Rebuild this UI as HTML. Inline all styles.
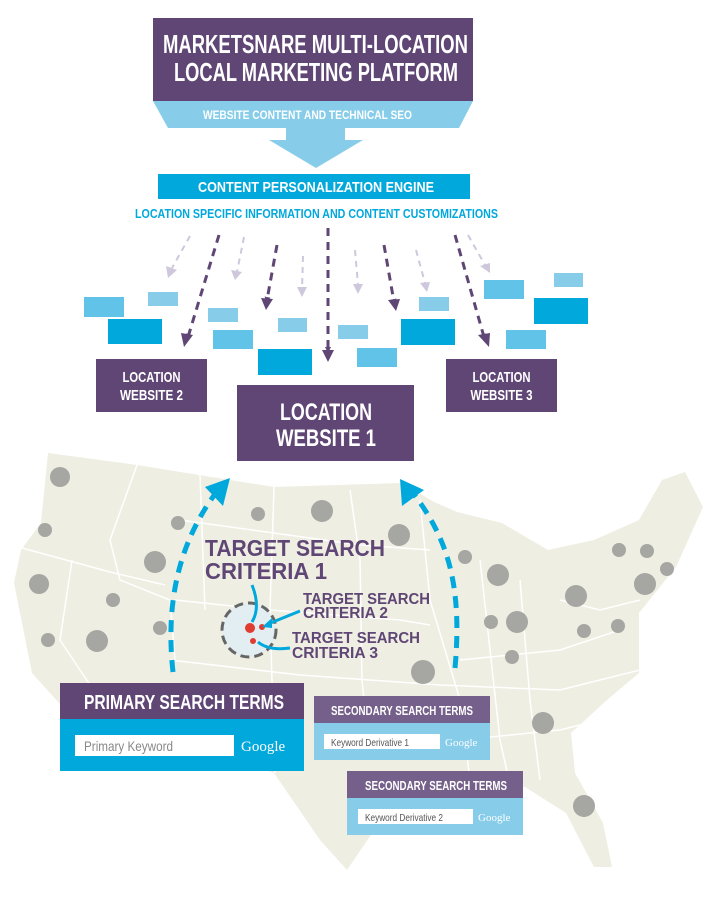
<!DOCTYPE html>
<html><head><meta charset="utf-8"><style>
html,body{margin:0;padding:0;background:#fff;}
svg{display:block;}
text{font-family:"Liberation Sans",sans-serif;font-weight:bold;}
</style></head><body>
<svg width="711" height="900" viewBox="0 0 711 900" xmlns="http://www.w3.org/2000/svg">
<defs>
<marker id="ap" markerWidth="6" markerHeight="6" refX="3" refY="3" orient="auto" markerUnits="userSpaceOnUse" viewBox="0 0 6 6"><path d="M0,0 L6,3 L0,6 z" fill="#5f4675"/></marker>
</defs>
<!-- map -->
<path d="M48,453 L137,465 L274,487 L402,483 L434,502 L457,512 L502,523 L548,550 L594,540 L639,520 L662,480 L685,472 L703,507 L676,567 L639,613 L639,673 L607,700 L571,733 L575,773 L603,823 L612,867 L594,867 L566,813 L525,787 L493,780 L457,793 L411,790 L379,823 L347,870 L320,840 L274,773 L237,760 L183,760 L119,750 L68,713 L32,673 L14,583 L21,550 L41,523 L46,473 Z" fill="#eeeee2"/>
<g stroke="#fff" stroke-width="1.5" fill="none">
<path d="M22,548 L110,572 L165,585"/>
<path d="M72,560 L60,640 L100,700"/>
<path d="M137,465 L110,540 L120,580 L170,600 L175,660"/>
<path d="M175,600 L270,610 L400,620 L430,625"/>
<path d="M170,660 L300,675 L440,685 L560,690 L640,670"/>
<path d="M274,487 L270,610 L272,680 L275,773"/>
<path d="M350,490 L360,560 L362,680 L370,760"/>
<path d="M200,475 L205,610"/>
<path d="M180,520 L360,545 L430,550"/>
<path d="M420,500 L430,600 L460,700 L470,780"/>
<path d="M480,560 L490,650 L500,740 L510,785"/>
<path d="M460,660 L560,650 L620,630"/>
<path d="M520,580 L530,700 L540,780"/>
<path d="M560,600 L600,610 L640,600"/>
<path d="M460,740 L560,730 L600,720"/>
</g>
<g fill="#a6a6a2">
<circle cx="60" cy="477" r="10"/><circle cx="45" cy="530" r="7"/><circle cx="39" cy="584" r="10"/><circle cx="48" cy="640" r="7"/>
<circle cx="97" cy="641" r="11"/><circle cx="113" cy="600" r="7"/><circle cx="160" cy="628" r="7"/><circle cx="155" cy="562" r="11"/>
<circle cx="178" cy="523" r="7"/><circle cx="258" cy="514" r="7"/><circle cx="322" cy="511" r="11"/><circle cx="399" cy="535" r="11"/>
<circle cx="465" cy="557" r="7"/><circle cx="498" cy="575" r="11"/><circle cx="576" cy="596" r="11"/><circle cx="491" cy="622" r="7"/>
<circle cx="517" cy="622" r="11"/><circle cx="512" cy="657" r="7"/><circle cx="584" cy="631" r="7"/><circle cx="645" cy="584" r="11"/>
<circle cx="647" cy="551" r="7"/><circle cx="619" cy="550" r="7"/><circle cx="667" cy="569" r="7"/><circle cx="618" cy="626" r="7"/>
<circle cx="543" cy="723" r="11"/><circle cx="584" cy="806" r="11"/><circle cx="423" cy="672" r="12"/>
</g>
<!-- blue dashed arcs -->
<path d="M173,672 C165,600 180,540 218,490" stroke="#00a8dc" stroke-width="5" stroke-dasharray="12,8" fill="none"/>
<path d="M205,487 L230,478 L223,506 Z" fill="#00a8dc"/>
<path d="M455,668 C462,590 450,540 412,492" stroke="#00a8dc" stroke-width="5" stroke-dasharray="12,8" fill="none"/>
<path d="M400,479 L424,490 L402,506 Z" fill="#00a8dc"/>
<!-- target -->
<circle cx="249" cy="630" r="27" fill="#e3eef2" stroke="#666" stroke-width="3" stroke-dasharray="9,5"/>
<circle cx="250" cy="628" r="5" fill="#e03c31"/><circle cx="262" cy="627" r="3" fill="#e03c31"/><circle cx="253" cy="641" r="3" fill="#e03c31"/>
<path d="M252,585 C258,600 258,612 252,622" stroke="#00a8dc" stroke-width="3" fill="none"/>
<path d="M300,611 L268,624" stroke="#00a8dc" stroke-width="3"/>
<path d="M262,627 L272,618 L272,628 Z" fill="#00a8dc"/>
<path d="M290,648 C275,650 265,648 258,642" stroke="#00a8dc" stroke-width="3" fill="none"/>
<g fill="#5f4675">
<text x="205" y="556" font-size="23" textLength="180" lengthAdjust="spacingAndGlyphs">TARGET SEARCH</text>
<text x="205" y="579" font-size="23" textLength="122" lengthAdjust="spacingAndGlyphs">CRITERIA 1</text>
<text x="303" y="604" font-size="16" textLength="127" lengthAdjust="spacingAndGlyphs">TARGET SEARCH</text>
<text x="303" y="618" font-size="16" textLength="85" lengthAdjust="spacingAndGlyphs">CRITERIA 2</text>
<text x="292" y="643" font-size="16" textLength="128" lengthAdjust="spacingAndGlyphs">TARGET SEARCH</text>
<text x="292" y="658" font-size="16" textLength="86" lengthAdjust="spacingAndGlyphs">CRITERIA 3</text>
</g>
<!-- top box -->
<rect x="153" y="18" width="320" height="83" fill="#5f4675"/>
<text x="163" y="53" font-size="26" fill="#fff" textLength="305" lengthAdjust="spacingAndGlyphs">MARKETSNARE MULTI-LOCATION</text>
<text x="174" y="81" font-size="26" fill="#fff" textLength="284" lengthAdjust="spacingAndGlyphs">LOCAL MARKETING PLATFORM</text>
<path d="M153,101 L473,101 L459,128 L345,128 L345,140 L363,140 L316,168 L269,140 L286,140 L286,128 L168,128 Z" fill="#87cdea"/>
<text x="203" y="119" font-size="12" fill="#fff" textLength="209" lengthAdjust="spacingAndGlyphs">WEBSITE CONTENT AND TECHNICAL SEO</text>
<rect x="158" y="174" width="312" height="25" fill="#00a8dc"/>
<text x="198" y="192" font-size="15" fill="#fff" textLength="236" lengthAdjust="spacingAndGlyphs">CONTENT PERSONALIZATION ENGINE</text>
<text x="135" y="218" font-size="12.5" fill="#00a8dc" textLength="363" lengthAdjust="spacingAndGlyphs">LOCATION SPECIFIC INFORMATION AND CONTENT CUSTOMIZATIONS</text>
<!-- light arrows -->
<g stroke="#cfc8dc" stroke-width="2" stroke-dasharray="6,5" fill="none">
<path d="M190,236 L172,268"/><path d="M244,237 L237,272"/><path d="M303,256 L302,290"/><path d="M355,250 L358,285"/><path d="M416,250 L425,283"/><path d="M468,235 L485,265"/>
</g>
<g fill="#cfc8dc">
<path d="M166,266 L177,270 L168,278 Z"/><path d="M231,270 L242,272 L235,280 Z"/><path d="M297,287 L307,287 L302,297 Z"/><path d="M353,284 L363,284 L358,294 Z"/><path d="M420,283 L430,282 L427,292 Z"/><path d="M480,266 L490,263 L490,273 Z"/>
</g>
<!-- rects -->
<g>
<rect x="84" y="297" width="40" height="20" fill="#62c3e9"/>
<rect x="108" y="319" width="54" height="25" fill="#00a8dc"/>
<rect x="148" y="292" width="30" height="14" fill="#87cdea"/>
<rect x="208" y="308" width="30" height="14" fill="#87cdea"/>
<rect x="213" y="330" width="40" height="19" fill="#62c3e9"/>
<rect x="258" y="349" width="54" height="26" fill="#00a8dc"/>
<rect x="278" y="318" width="29" height="14" fill="#87cdea"/>
<rect x="338" y="325" width="30" height="14" fill="#87cdea"/>
<rect x="357" y="348" width="40" height="19" fill="#62c3e9"/>
<rect x="401" y="319" width="54" height="26" fill="#00a8dc"/>
<rect x="419" y="297" width="30" height="14" fill="#87cdea"/>
<rect x="484" y="280" width="40" height="19" fill="#62c3e9"/>
<rect x="534" y="298" width="54" height="26" fill="#00a8dc"/>
<rect x="554" y="273" width="29" height="14" fill="#87cdea"/>
<rect x="506" y="330" width="40" height="19" fill="#62c3e9"/>
</g>
<!-- dark arrows -->
<g stroke="#5f4675" stroke-width="3" stroke-dasharray="8,6" fill="none" marker-end="url(#ap)">
<path d="M219,235 L188,337"/><path d="M277,245 L267,300"/><path d="M328,228 L328,350"/><path d="M384,245 L394,302"/><path d="M455,235 L484,337"/>
</g>
<g fill="#5f4675">
<path d="M181,333 L193,335 L184,347 Z"/><path d="M261,298 L273,299 L266,310 Z"/><path d="M322,350 L334,350 L328,362 Z"/><path d="M388,300 L400,299 L396,311 Z"/><path d="M478,335 L490,333 L489,347 Z"/>
</g>
<!-- location boxes -->
<rect x="96" y="359" width="111" height="53" fill="#5f4675"/>
<text x="151.5" y="382" font-size="15" fill="#fff" text-anchor="middle" textLength="58" lengthAdjust="spacingAndGlyphs">LOCATION</text>
<text x="151.5" y="400" font-size="15" fill="#fff" text-anchor="middle" textLength="63" lengthAdjust="spacingAndGlyphs">WEBSITE 2</text>
<rect x="446" y="359" width="111" height="53" fill="#5f4675"/>
<text x="501.5" y="382" font-size="15" fill="#fff" text-anchor="middle" textLength="58" lengthAdjust="spacingAndGlyphs">LOCATION</text>
<text x="501.5" y="400" font-size="15" fill="#fff" text-anchor="middle" textLength="62" lengthAdjust="spacingAndGlyphs">WEBSITE 3</text>
<rect x="237" y="385" width="177" height="76" fill="#5f4675"/>
<text x="326" y="420" font-size="24" fill="#fff" text-anchor="middle" textLength="92" lengthAdjust="spacingAndGlyphs">LOCATION</text>
<text x="326" y="446" font-size="24" fill="#fff" text-anchor="middle" textLength="100" lengthAdjust="spacingAndGlyphs">WEBSITE 1</text>
<!-- primary -->
<rect x="60" y="683" width="244" height="36" fill="#5f4675"/>
<rect x="60" y="719" width="244" height="52" fill="#00a8dc"/>
<text x="84" y="709" font-size="20" fill="#fff" textLength="200" lengthAdjust="spacingAndGlyphs">PRIMARY SEARCH TERMS</text>
<rect x="75" y="735" width="159" height="21" fill="#fff"/>
<text x="84" y="751" font-size="14" font-weight="normal" style="font-weight:normal" fill="#888" textLength="89" lengthAdjust="spacingAndGlyphs">Primary Keyword</text>
<text x="241" y="751" font-size="15" fill="#fff" style="font-family:'Liberation Serif',serif;font-weight:normal">Google</text>
<!-- secondary 1 -->
<rect x="314" y="696" width="176" height="27" fill="#74608a"/>
<rect x="314" y="723" width="176" height="37" fill="#87cdea"/>
<text x="331" y="715" font-size="12.5" fill="#fff" textLength="142" lengthAdjust="spacingAndGlyphs">SECONDARY SEARCH TERMS</text>
<rect x="324" y="734" width="116" height="15" fill="#fff"/>
<text x="331" y="746" font-size="10.5" fill="#555" style="font-weight:normal" textLength="78" lengthAdjust="spacingAndGlyphs">Keyword Derivative 1</text>
<text x="445" y="746" font-size="11" fill="#fff" style="font-family:'Liberation Serif',serif;font-weight:normal">Google</text>
<!-- secondary 2 -->
<rect x="347" y="771" width="176" height="27" fill="#74608a"/>
<rect x="347" y="798" width="176" height="37" fill="#87cdea"/>
<text x="365" y="790" font-size="12.5" fill="#fff" textLength="142" lengthAdjust="spacingAndGlyphs">SECONDARY SEARCH TERMS</text>
<rect x="358" y="809" width="115" height="15" fill="#fff"/>
<text x="365" y="821" font-size="10.5" fill="#555" style="font-weight:normal" textLength="78" lengthAdjust="spacingAndGlyphs">Keyword Derivative 2</text>
<text x="478" y="821" font-size="11" fill="#fff" style="font-family:'Liberation Serif',serif;font-weight:normal">Google</text>
</svg>
</body></html>
